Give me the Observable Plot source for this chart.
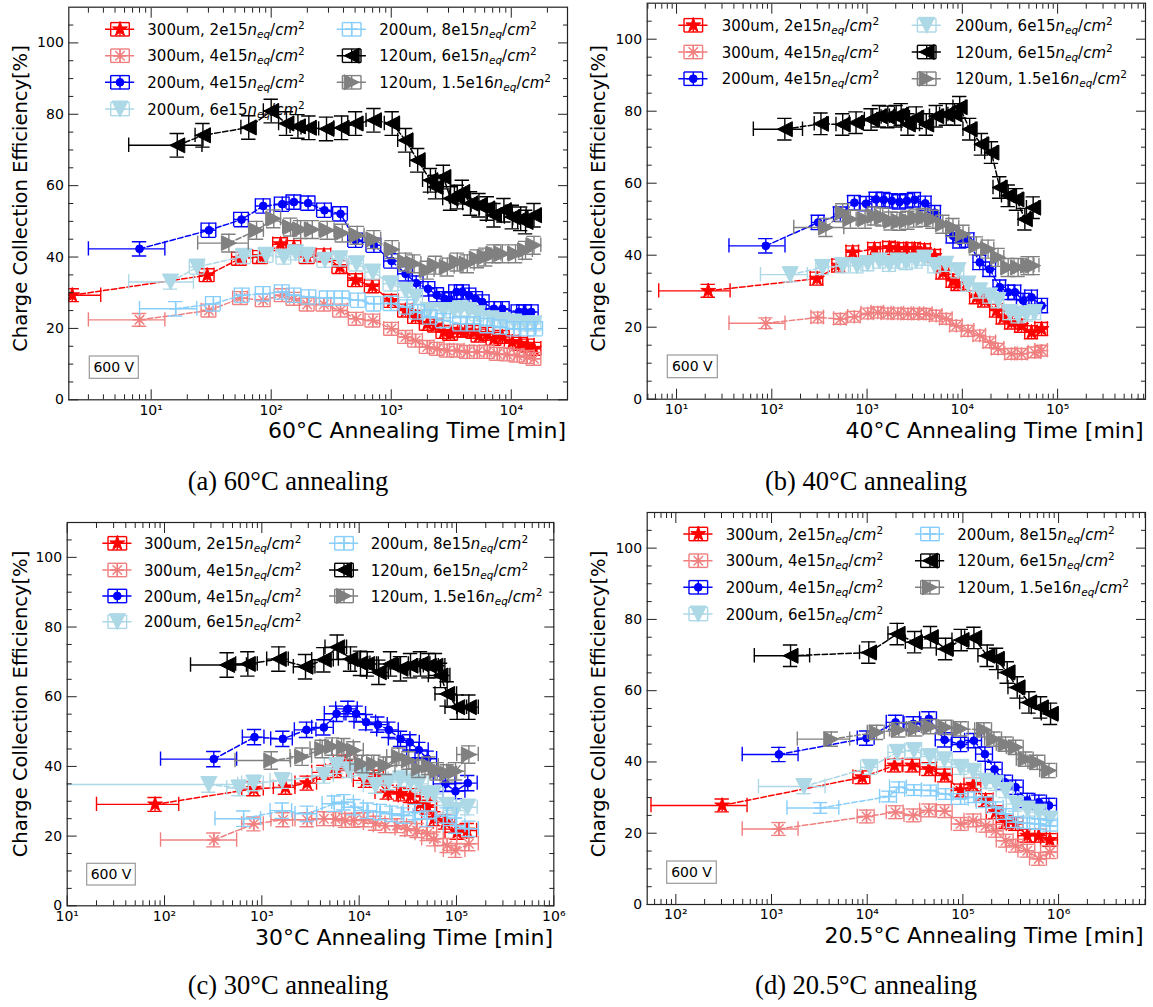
<!DOCTYPE html>
<html><head><meta charset="utf-8">
<script src="https://cdn.jsdelivr.net/npm/d3@7"></script>
<script src="https://cdn.jsdelivr.net/npm/@observablehq/plot@0.6"></script>
<style>
body{margin:0;background:#fff;}
#page{position:relative;width:1153px;height:1007px;overflow:hidden;font-family:"DejaVu Sans",sans-serif;}
.panel{position:absolute;}
</style></head><body><div id="page"></div>
<script>
// ---------------- DATA ----------------
const seriesLabels = ["300um, 2e15", "300um, 4e15", "200um, 4e15", "200um, 6e15", "200um, 8e15", "120um, 6e15", "120um, 1.5e16"];
const yTickLabels = [0, 20, 40, 60, 80, 100];

// 60°C annealing (time in min, CCE in %)
const t60_300_2e15 = [2.2, 29.3, 54.4, 81.5, 119.7, 154.6, 199.5, 275, 373, 505, 695, 1006, 1316, 1595, 1995, 2340, 2746, 3120, 3780, 4160, 4885, 5380, 6310, 7175, 8420, 10190, 11970, 13590, 15460];
const cce60_300_2e15 = [29.3, 34.9, 39.5, 40.0, 43.6, 42.8, 40.0, 40.5, 37.2, 33.5, 31.8, 27.7, 25.0, 23.2, 21.3, 20.8, 19.0, 18.5, 19.4, 19.4, 19.0, 18.0, 18.5, 17.1, 17.6, 16.2, 15.7, 15.2, 14.3];
const t60_300_4e15 = [8.0, 30.3, 55.5, 85.8, 123.6, 154.6, 199.5, 275, 378, 511, 703, 1006, 1316, 1595, 1995, 2417, 2930, 3548, 4300, 5210, 6310, 7640, 9260, 11220, 13590, 15460];
const cce60_300_4e15 = [22.4, 25.0, 28.5, 27.9, 29.3, 28.3, 26.7, 26.7, 25.0, 22.7, 22.2, 19.9, 17.6, 16.6, 14.8, 14.3, 13.8, 13.8, 13.4, 13.4, 13.4, 12.9, 12.7, 12.4, 12.0, 11.5];
const t60_200_4e15 = [8.0, 30.3, 56.6, 85.8, 123.6, 154.6, 203, 278, 378, 505, 717, 1006, 1316, 1614, 2023, 2388, 2782, 3083, 3500, 3906, 4440, 5045, 5730, 7175, 8420, 11590, 12900, 14680];
const cce60_200_4e15 = [42.3, 47.5, 50.5, 54.3, 54.8, 55.4, 55.1, 53.1, 52.1, 44.7, 43.3, 38.9, 35.3, 32.7, 31.1, 29.4, 28.3, 28.0, 30.2, 30.2, 29.3, 28.3, 27.4, 25.5, 25.5, 24.6, 24.6, 24.6];
const t60_200_6e15 = [14.5, 24.2, 59.2, 90.8, 127.5, 159.5, 199.5, 280, 373, 514, 703, 995, 1316, 1595, 2061, 2720, 3335, 3780, 4440, 5212, 6790, 8420, 10520, 13150, 15460];
const cce60_200_6e15 = [33.0, 37.2, 40.2, 40.5, 40.0, 41.2, 40.5, 39.1, 39.5, 38.1, 35.8, 32.5, 30.7, 28.8, 25.0, 25.0, 25.0, 25.5, 25.0, 24.1, 22.7, 22.2, 21.8, 21.3, 21.3];
const t60_200_8e15 = [16, 33, 57.3, 85.8, 123.6, 154.6, 206, 293, 391, 531, 717, 995, 1350, 1660, 2120, 2720, 3780, 4885, 6310, 8100, 10520, 13590, 15970];
const cce60_200_8e15 = [25.5, 26.9, 29.3, 29.7, 30.2, 29.3, 28.8, 28.5, 28.5, 27.9, 26.9, 27.0, 26.0, 24.6, 23.2, 22.2, 21.3, 21.3, 20.8, 20.4, 19.9, 19.9, 19.9];
const t60_120_6e15 = [16.5, 27, 65, 100, 134, 167, 206, 289, 386, 505, 717, 1018, 1316, 1660, 2120, 2340, 2720, 3120, 3548, 3906, 4570, 5380, 6310, 7175, 8680, 10190, 11970, 13150, 15460];
const cce60_120_6e15 = [71.3, 74.1, 76.3, 80.9, 77.4, 76.6, 76.2, 75.9, 76.2, 77.4, 78.3, 77.4, 72.7, 67.1, 61.5, 59.6, 62.4, 56.4, 56.8, 58.2, 55.0, 54.5, 53.6, 51.7, 53.1, 51.2, 50.7, 49.8, 51.7];
const t60_120_15e15 = [44.4, 75.5, 105, 145, 176, 220, 293, 391, 521, 717, 1018, 1316, 1550, 1995, 2340, 2930, 3548, 4300, 5210, 6113, 7175, 8420, 10850, 13150, 15460];
const cce60_120_15e15 = [43.9, 47.5, 50.7, 48.4, 47.7, 47.7, 47.5, 46.7, 46.1, 44.9, 42.1, 38.6, 38.1, 36.3, 37.7, 37.2, 38.6, 38.1, 39.5, 40.0, 40.9, 40.9, 40.9, 41.9, 43.3];
const xErrFirst60 = [1.6, 5, 5, 8, 8, 10, 20];
const yErr60 = [1.8, 1.8, 2.0, 2.0, 2.0, 3.3, 2.5];

// 40°C annealing
const t40_300_2e15 = [21.5, 298, 503, 707, 1195, 1718, 2103, 2575, 3150, 4015, 5120, 6250, 7970, 9000, 14030, 17180, 22800, 26800, 32800, 41800, 53200, 67900];
const cce40_300_2e15 = [30.1, 33.5, 37.1, 40.8, 41.7, 42.0, 41.7, 41.7, 41.7, 41.4, 39.8, 35.2, 32.9, 32.0, 28.3, 27.4, 24.6, 22.7, 21.3, 20.4, 18.6, 19.5];
const t40_300_4e15 = [86.5, 303, 524, 736, 1016, 1295, 1652, 2103, 2680, 3415, 4180, 5320, 6790, 8650, 11480, 15220, 19400, 23700, 32800, 41800, 57700, 67900];
const cce40_300_4e15 = [21.1, 22.7, 22.3, 22.9, 23.8, 24.1, 23.8, 23.8, 23.7, 23.7, 23.7, 23.2, 22.3, 20.4, 19.0, 17.7, 15.8, 14.0, 12.6, 12.6, 13.0, 13.5];
const t40_200_4e15 = [86.5, 307, 524, 736, 976, 1243, 1497, 1818, 2190, 2617, 3150, 4080, 5120, 7980, 9380, 11480, 15220, 19400, 24700, 30300, 35600, 43500, 53200, 67900];
const cce40_200_4e15 = [42.6, 49.1, 51.4, 54.6, 54.3, 55.5, 55.4, 55.1, 54.8, 55.1, 55.4, 54.4, 51.8, 45.4, 44.0, 44.2, 38.0, 36.1, 31.1, 29.7, 29.7, 27.4, 28.3, 26.0];
const t40_200_6e15 = [156, 341, 555, 785, 1016, 1349, 1718, 2103, 2575, 3280, 4015, 5120, 6700, 9000, 11480, 15220, 19400, 23700, 31500, 38500, 47200, 57700];
const cce40_200_6e15 = [34.6, 36.6, 37.1, 37.1, 37.7, 38.4, 37.5, 38.4, 38.0, 38.4, 39.2, 37.1, 37.5, 35.7, 32.0, 30.1, 28.7, 27.4, 24.1, 23.2, 23.7, 24.1];
const t40_120_6e15 = [137, 328, 555, 766, 1102, 1349, 1652, 2020, 2280, 2680, 3280, 4180, 5320, 6790, 8300, 9380, 11940, 15850, 20200, 24700, 30300, 37000, 45300, 55400];
const cce40_120_6e15 = [75.0, 76.5, 76.3, 76.8, 77.7, 78.6, 78.4, 78.6, 79.1, 76.3, 78.2, 76.3, 78.6, 79.1, 79.1, 81.1, 75.0, 70.8, 68.5, 58.8, 56.5, 55.5, 50.0, 53.2];
const t40_120_15e15 = [370, 555, 668, 953, 1195, 1462, 1790, 2190, 2680, 3280, 4015, 4910, 6250, 7980, 10160, 14030, 18620, 23700, 30300, 38500, 49100, 55400];
const cce40_120_15e15 = [47.7, 51.8, 50.0, 50.0, 50.9, 50.6, 49.5, 49.4, 49.7, 50.3, 50.5, 50.0, 48.6, 47.7, 45.8, 42.6, 41.7, 39.4, 36.6, 36.6, 37.1, 37.1];
const xErrFirst40 = [15, 51, 51, 80, 0, 73, 200];
const yErr40 = [1.8, 1.5, 2.0, 2.0, 0, 3.0, 2.5];

// 30°C annealing
const t30_300_2e15 = [80, 828, 1750, 2920, 4340, 5940, 7240, 11600, 14150, 19400, 26600, 33700, 42700, 50000, 58500, 77100, 101600, 128800];
const cce30_300_2e15 = [29.1, 33.6, 34.0, 35.2, 38.3, 38.8, 41.2, 36.0, 36.9, 32.6, 32.1, 31.6, 29.3, 28.3, 25.0, 24.0, 21.1, 21.6];
const t30_300_4e15 = [321, 828, 1655, 2923, 4335, 5710, 7240, 8820, 11170, 14730, 18660, 24550, 31100, 39400, 50000, 58500, 80200, 97700, 134000];
const cce30_300_4e15 = [18.9, 23.5, 24.7, 24.7, 25.0, 25.0, 24.5, 24.5, 24.7, 23.7, 23.0, 23.0, 22.1, 21.6, 20.7, 19.2, 17.3, 15.9, 17.8];
const t30_200_4e15 = [321, 841, 1644, 2877, 4335, 5850, 7650, 9310, 11800, 15560, 20180, 26600, 33200, 41000, 50000, 77100, 97700, 130600];
const cce30_200_4e15 = [42.1, 48.4, 47.9, 50.5, 51.2, 55.1, 56.5, 55.1, 52.7, 52.0, 50.5, 47.9, 46.9, 44.7, 42.2, 35.0, 32.9, 35.2];
const t30_200_6e15 = [285, 581, 828, 1620, 4335, 5850, 7830, 11170, 14730, 20180, 26600, 33700, 41000, 50000, 58500, 80200, 97700, 130600];
const cce30_200_6e15 = [34.8, 33.8, 35.2, 35.9, 37.4, 40.2, 39.0, 37.4, 34.5, 35.5, 36.4, 35.5, 35.0, 32.1, 32.1, 28.8, 27.3, 28.3];
const t30_200_8e15 = [650, 1620, 2923, 5550, 6980, 8820, 12100, 16500, 21700, 28600, 37700, 50000, 80200, 97700, 134000];
const cce30_200_8e15 = [25.0, 27.3, 26.4, 29.3, 29.7, 28.3, 27.3, 26.9, 26.4, 25.9, 26.9, 25.0, 25.9, 23.0, 22.1];
const t30_120_6e15 = [440, 718, 1495, 2810, 4335, 5940, 8150, 10320, 12090, 15920, 21000, 26600, 33700, 42700, 52000, 60800, 68500, 80200, 101600, 134000];
const cce30_120_6e15 = [69.1, 69.4, 70.8, 68.6, 70.6, 74.2, 70.8, 69.6, 69.4, 67.0, 69.4, 68.0, 68.9, 69.4, 68.9, 68.9, 66.1, 60.8, 57.0, 57.0];
const t30_120_15e15 = [1250, 2595, 4170, 5280, 6960, 8820, 10740, 14150, 18660, 25600, 32400, 41000, 52000, 63300, 80200, 97700, 134000];
const cce30_120_15e15 = [41.7, 42.8, 45.0, 45.7, 45.5, 44.6, 40.7, 40.7, 40.2, 42.8, 41.7, 39.3, 40.2, 38.6, 38.0, 38.6, 43.4];
const xErrFirst30 = [60, 230, 230, 280, 320, 255, 720];
const yErr30 = [2.0, 2.0, 2.2, 2.2, 2.2, 3.5, 2.5];

// 20.5°C annealing
const t20_300_2e15 = [305, 8870, 19300, 29500, 44100, 64300, 94600, 128300, 172600, 219500, 279000, 355500, 470000, 622000, 811000];
const cce20_300_2e15 = [27.8, 35.7, 39.0, 39.0, 38.0, 36.2, 32.0, 33.6, 29.3, 25.9, 23.1, 22.6, 19.3, 19.3, 18.1];
const t20_300_4e15 = [1194, 9840, 19770, 30300, 44100, 64300, 94600, 128300, 172600, 219500, 279000, 355500, 470000, 622000, 811000];
const cce20_300_4e15 = [21.2, 24.7, 25.9, 25.0, 26.4, 26.2, 22.6, 23.6, 22.1, 20.7, 17.9, 16.5, 15.1, 12.8, 14.7];
const t20_200_4e15 = [1194, 9840, 19770, 30300, 44100, 64300, 94600, 130400, 169800, 214300, 274600, 355500, 470000, 622000, 793000];
const cce20_200_4e15 = [42.1, 46.7, 51.1, 50.7, 52.1, 46.2, 44.9, 46.0, 42.2, 37.9, 34.3, 32.9, 29.2, 28.7, 27.8];
const t20_200_6e15 = [2180, 10670, 20600, 30800, 45200, 64300, 94600, 128300, 172600, 219500, 279000, 355500, 470000, 622000, 811000];
const cce20_200_6e15 = [33.1, 38.5, 42.7, 43.2, 41.5, 40.6, 38.5, 37.4, 34.6, 34.0, 32.0, 28.2, 26.8, 25.9, 24.0];
const t20_200_8e15 = [3250, 16830, 21400, 30800, 45900, 65900, 94600, 130400, 172600, 219500, 279000, 355500, 470000, 622000, 811000];
const cce20_200_8e15 = [27.1, 30.3, 32.9, 32.1, 32.0, 31.0, 29.6, 30.1, 28.7, 27.3, 25.4, 23.1, 22.8, 22.6, 22.1];
const t20_120_6e15 = [1581, 10390, 20600, 31300, 45900, 65900, 96100, 130400, 179600, 224800, 290600, 369700, 489800, 648500, 824300];
const cce20_120_6e15 = [69.8, 70.7, 75.9, 73.6, 75.0, 71.7, 74.2, 74.8, 69.8, 68.9, 65.1, 60.9, 56.7, 55.3, 53.5];
const t20_120_15e15 = [4210, 12530, 21400, 32000, 45900, 65900, 94600, 166000, 211000, 279000, 355500, 452000, 598000, 793000];
const cce20_120_15e15 = [46.4, 48.3, 49.0, 49.3, 49.9, 49.7, 49.3, 49.0, 46.4, 45.0, 44.1, 40.8, 39.9, 37.6];
const xErrFirst20 = [250, 700, 700, 1450, 1800, 920, 2350];
const yErr20 = [1.8, 1.8, 2.0, 2.0, 1.5, 3.0, 2.0];

// ---------------- STYLE ----------------
const seriesColors = ["#ff0000", "#f08080", "#0000ff", "#add8e6", "#87cefa", "#000000", "#808080"];
const symStar = {draw(c, s){const R=Math.sqrt(s/Math.PI), r=R*0.382; for(let i=0;i<10;i++){const a=-Math.PI/2+i*Math.PI/5, q=i%2?r:R; const x=q*Math.cos(a), y=q*Math.sin(a); if(i) c.lineTo(x,y); else c.moveTo(x,y);} c.closePath();}};
const symAst = {draw(c, s){const R=Math.sqrt(s/Math.PI); for(let k=0;k<4;k++){const a=k*Math.PI/4; c.moveTo(R*Math.cos(a),R*Math.sin(a)); c.lineTo(-R*Math.cos(a),-R*Math.sin(a));}}};
const symCircle = {draw(c, s){const R=Math.sqrt(s/Math.PI); c.moveTo(R,0); c.arc(0,0,R,0,2*Math.PI);}};
const symDown = {draw(c, s){const R=Math.sqrt(s/Math.PI); c.moveTo(0,R); c.lineTo(-R,-R); c.lineTo(R,-R); c.closePath();}};
const symPlus = {draw(c, s){const R=Math.sqrt(s/Math.PI); c.moveTo(-R,0); c.lineTo(R,0); c.moveTo(0,-R); c.lineTo(0,R);}};
const symLeft = {draw(c, s){const R=Math.sqrt(s/Math.PI); c.moveTo(-R,0); c.lineTo(R,-R); c.lineTo(R,R); c.closePath();}};
const symRight = {draw(c, s){const R=Math.sqrt(s/Math.PI); c.moveTo(R,0); c.lineTo(-R,-R); c.lineTo(-R,R); c.closePath();}};
const seriesSymbols = [symStar, symAst, symCircle, symDown, symPlus, symLeft, symRight];
const seriesR = [7.8, 6.7, 3.9, 8, 5.5, 7.5, 7.5];
const seriesFilled = [true, false, true, true, false, true, true];
const CAP = 7.2;
const FRAME = "#222";

const panels = [
  {series: [[t60_300_2e15, cce60_300_2e15], [t60_300_4e15, cce60_300_4e15], [t60_200_4e15, cce60_200_4e15], [t60_200_6e15, cce60_200_6e15], [t60_200_8e15, cce60_200_8e15], [t60_120_6e15, cce60_120_6e15], [t60_120_15e15, cce60_120_15e15]],
   xErrFirst: xErrFirst60, yErr: yErr60, xErrFrac: 0.14, domain: [2.06, 29400],
   left: 0, top: 0, width: 576, height: 460, mL: 68.3, mR: 9, mT: 6.7, mB: 60.7,
   xlabel: "60°C Annealing Time [min]", xlabelX: 566, xlabelY: 438, ylabelX: 26.5, ylabelY: 198.5,
   caption: "(a) 60°C annealing", capX: 288, capY: 490,
   legendCols: [[0,1,2,3],[4,5,6]], legX: [[120,147.3],[351.7,379.3]], legY: [29.3, 55.7, 82.3, 109],
   box: [89.3, 356, 49, 22.3]},
  {series: [[t40_300_2e15, cce40_300_2e15], [t40_300_4e15, cce40_300_4e15], [t40_200_4e15, cce40_200_4e15], [t40_200_6e15, cce40_200_6e15], null, [t40_120_6e15, cce40_120_6e15], [t40_120_15e15, cce40_120_15e15]],
   xErrFirst: xErrFirst40, yErr: yErr40, xErrFrac: 0.15, domain: [4.92, 837000],
   left: 576, top: 0, width: 577, height: 460, mL: 70.7, mR: 8, mT: 2.7, mB: 61.3,
   xlabel: "40°C Annealing Time [min]", xlabelX: 1143.5, xlabelY: 438, ylabelX: 605, ylabelY: 198.5,
   caption: "(b) 40°C annealing", capX: 866, capY: 490,
   legendCols: [[0,1,2],[3,5,6]], legX: [[693.3,721.7],[926.7,955.3]], legY: [25.3, 52, 78.7],
   box: [667.3, 355, 50, 22.7]},
  {series: [[t30_300_2e15, cce30_300_2e15], [t30_300_4e15, cce30_300_4e15], [t30_200_4e15, cce30_200_4e15], [t30_200_6e15, cce30_200_6e15], [t30_200_8e15, cce30_200_8e15], [t30_120_6e15, cce30_120_6e15], [t30_120_15e15, cce30_120_15e15]],
   xErrFirst: xErrFirst30, yErr: yErr30, xErrFrac: 0.25, domain: [10, 1e6],
   left: 0, top: 480, width: 576, height: 480, mL: 66.7, mR: 22.7, mT: 42, mB: 54.7,
   xlabel: "30°C Annealing Time [min]", xlabelX: 553, xlabelY: 945, ylabelX: 26.5, ylabelY: 704,
   caption: "(c) 30°C annealing", capX: 288, capY: 994,
   legendCols: [[0,1,2,3],[4,5,6]], legX: [[117.3,144],[344,370.7]], legY: [543.3, 570, 596, 621.7],
   box: [86.7, 863.3, 48.6, 21.7]},
  {series: [[t20_300_2e15, cce20_300_2e15], [t20_300_4e15, cce20_300_4e15], [t20_200_4e15, cce20_200_4e15], [t20_200_6e15, cce20_200_6e15], [t20_200_8e15, cce20_200_8e15], [t20_120_6e15, cce20_120_6e15], [t20_120_15e15, cce20_120_15e15]],
   xErrFirst: xErrFirst20, yErr: yErr20, xErrFrac: 0.2, domain: [50.2, 8.1e6],
   left: 576, top: 480, width: 577, height: 480, mL: 70.7, mR: 8, mT: 32, mB: 56,
   xlabel: "20.5°C Annealing Time [min]", xlabelX: 1143.5, xlabelY: 943, ylabelX: 605, ylabelY: 704,
   caption: "(d) 20.5°C annealing", capX: 866, capY: 994,
   legendCols: [[0,1,2,3],[4,5,6]], legX: [[698.3,725.7],[930,957.3]], legY: [534, 560.7, 587.3, 614],
   box: [666.7, 861, 49.6, 22.3]}
];

// ---------------- DRAW ----------------
const page = d3.select("#page");
const overlay = page.append("svg").attr("width", 1153).attr("height", 1007)
  .style("position", "absolute").style("left", "0px").style("top", "0px")
  .attr("font-family", "DejaVu Sans, sans-serif");

const supMap = {"0":"⁰","1":"¹","2":"²","3":"³","4":"⁴","5":"⁵","6":"⁶","7":"⁷"};
const powFmt = d => "10" + String(Math.round(Math.log10(d))).split("").map(c => supMap[c]).join("");
function decades(lo, hi) { const out = []; for (let e = Math.ceil(Math.log10(lo) - 1e-9); e <= Math.floor(Math.log10(hi) + 1e-9); e++) out.push(10 ** e); return out; }
function minors(lo, hi) { const out = []; for (let e = Math.floor(Math.log10(lo)); e <= Math.ceil(Math.log10(hi)); e++) for (let m = 2; m <= 9; m++) { const v = m * 10 ** e; if (v >= lo && v <= hi) out.push(v); } return out; }
const yMinor = d3.range(5, 110, 5).filter(v => v % 20 !== 0);

function seriesMarks(P, k) {
  const s = P.series[k];
  if (!s) return [];
  const [T, V] = s;
  const ye = P.yErr[k];
  const rows = T.map((t, i) => {
    const xe = i === 0 ? P.xErrFirst[k] : t * P.xErrFrac;
    return {t, v: V[i], lo: V[i] - ye, hi: V[i] + ye, tlo: Math.max(t - xe, 1e-3), thi: t + xe};
  });
  const col = seriesColors[k];
  const eb = {stroke: col, strokeWidth: 1.4, clip: true};
  return [
    Plot.ruleY(rows, {y: "v", x1: "tlo", x2: "thi", ...eb}),
    Plot.ruleX(rows, {x: "tlo", y1: "v", y2: "v", insetTop: -CAP, insetBottom: -CAP, ...eb}),
    Plot.ruleX(rows, {x: "thi", y1: "v", y2: "v", insetTop: -CAP, insetBottom: -CAP, ...eb}),
    Plot.ruleX(rows, {x: "t", y1: "lo", y2: "hi", ...eb}),
    Plot.ruleY(rows, {y: "lo", x1: "t", x2: "t", insetLeft: -CAP, insetRight: -CAP, ...eb}),
    Plot.ruleY(rows, {y: "hi", x1: "t", x2: "t", insetLeft: -CAP, insetRight: -CAP, ...eb}),
    Plot.line(rows, {x: "t", y: "v", stroke: col, strokeWidth: 1.5, strokeDasharray: "5.5,2.4", clip: true}),
    Plot.dot(rows, {x: "t", y: "v", symbol: seriesSymbols[k], r: seriesR[k],
      fill: seriesFilled[k] ? col : "none", stroke: col, strokeWidth: seriesFilled[k] ? 1 : 1.5, clip: true})
  ];
}

panels.forEach(P => {
  const [lo, hi] = P.domain;
  const xMaj = decades(lo, hi), xMin = minors(lo, hi);
  const tickOpts = {tickFormat: () => "", label: null, stroke: FRAME, strokeWidth: 1};
  const marks = [];
  for (let k = 0; k < 7; k++) marks.push(...seriesMarks(P, k));
  marks.push(
    Plot.axisX(xMaj, {anchor: "bottom", tickSize: -10, ...tickOpts}),
    Plot.axisX(xMaj, {anchor: "top", tickSize: -10, ...tickOpts}),
    Plot.axisX(xMin, {anchor: "bottom", tickSize: -5, ...tickOpts}),
    Plot.axisX(xMin, {anchor: "top", tickSize: -5, ...tickOpts}),
    Plot.axisY(yTickLabels, {anchor: "left", tickSize: -10, ...tickOpts}),
    Plot.axisY(yTickLabels, {anchor: "right", tickSize: -10, ...tickOpts}),
    Plot.axisY(yMinor, {anchor: "left", tickSize: -5, ...tickOpts}),
    Plot.axisY(yMinor, {anchor: "right", tickSize: -5, ...tickOpts}),
    Plot.axisX(xMaj, {anchor: "bottom", tickSize: 0, tickPadding: 5, tickFormat: powFmt, label: null, fontSize: 14}),
    Plot.axisY(yTickLabels, {anchor: "left", tickSize: 0, tickPadding: 5, tickFormat: d => String(d), label: null, fontSize: 14}),
    Plot.frame({stroke: FRAME, strokeWidth: 1.2})
  );
  const chart = Plot.plot({
    width: P.width, height: P.height,
    marginLeft: P.mL, marginRight: P.mR, marginTop: P.mT, marginBottom: P.mB,
    x: {type: "log", domain: P.domain, label: null},
    y: {domain: [0, 110], label: null},
    style: {fontFamily: "DejaVu Sans, sans-serif", fontSize: "14px", background: "transparent", color: "#000"},
    marks
  });
  page.append("div").attr("class", "panel")
    .style("left", P.left + "px").style("top", P.top + "px")
    .style("width", P.width + "px").style("height", P.height + "px")
    .node().appendChild(chart);

  // axis titles and caption
  overlay.append("text").attr("transform", `translate(${P.ylabelX},${P.ylabelY}) rotate(-90)`)
    .attr("text-anchor", "middle").attr("font-size", 19.5).text("Charge Collection Efficiency[%]");
  overlay.append("text").attr("x", P.xlabelX).attr("y", P.xlabelY).attr("text-anchor", "end")
    .attr("font-size", 22).text(P.xlabel);
  overlay.append("text").attr("x", P.capX).attr("y", P.capY).attr("text-anchor", "middle")
    .attr("font-family", "Liberation Serif, Times New Roman, serif").attr("font-size", 26.5).text(P.caption);

  // 600 V box
  const [bx, by, bw, bh] = P.box;
  overlay.append("rect").attr("x", bx).attr("y", by).attr("width", bw).attr("height", bh)
    .attr("fill", "none").attr("stroke", "#999").attr("stroke-width", 1.2);
  overlay.append("text").attr("x", bx + bw / 2).attr("y", by + bh / 2 + 5).attr("text-anchor", "middle")
    .attr("font-size", 14).text("600 V");

  // legend
  P.legendCols.forEach((col, ci) => {
    const [cx, tx] = P.legX[ci];
    col.forEach((k, ri) => {
      const cy = P.legY[ri];
      const c = seriesColors[k];
      const g = overlay.append("g").attr("stroke", c).attr("stroke-width", 1.4).attr("fill", "none");
      g.append("line").attr("x1", cx - 15).attr("x2", cx + 15).attr("y1", cy).attr("y2", cy).attr("stroke-width", 1.5).attr("stroke-dasharray", "5.5,2.4");
      const hx = 9.3, hy = 6.7;
      g.append("line").attr("x1", cx - hx).attr("x2", cx + hx).attr("y1", cy).attr("y2", cy);
      g.append("line").attr("x1", cx).attr("x2", cx).attr("y1", cy - hy).attr("y2", cy + hy);
      g.append("line").attr("x1", cx - hx).attr("x2", cx - hx).attr("y1", cy - hy).attr("y2", cy + hy);
      g.append("line").attr("x1", cx + hx).attr("x2", cx + hx).attr("y1", cy - hy).attr("y2", cy + hy);
      g.append("line").attr("x1", cx - hx).attr("x2", cx + hx).attr("y1", cy - hy).attr("y2", cy - hy);
      g.append("line").attr("x1", cx - hx).attr("x2", cx + hx).attr("y1", cy + hy).attr("y2", cy + hy);
      const R = seriesR[k];
      g.append("path").attr("transform", `translate(${cx},${cy})`)
        .attr("d", d3.symbol(seriesSymbols[k], R * R * Math.PI)())
        .attr("fill", seriesFilled[k] ? c : "none").attr("stroke-width", seriesFilled[k] ? 1 : 1.5);
      const t = overlay.append("text").attr("x", tx).attr("y", cy + 5.5).attr("font-size", 15).attr("fill", "#000");
      t.append("tspan").text(seriesLabels[k]);
      t.append("tspan").attr("font-style", "italic").text("n");
      t.append("tspan").attr("font-style", "italic").attr("font-size", 10.5).attr("dy", 3).text("eq");
      t.append("tspan").attr("dy", -3).text("/");
      t.append("tspan").attr("font-style", "italic").text("cm");
      t.append("tspan").attr("font-size", 10.5).attr("dy", -6).text("2");
    });
  });
});
</script></body></html>
